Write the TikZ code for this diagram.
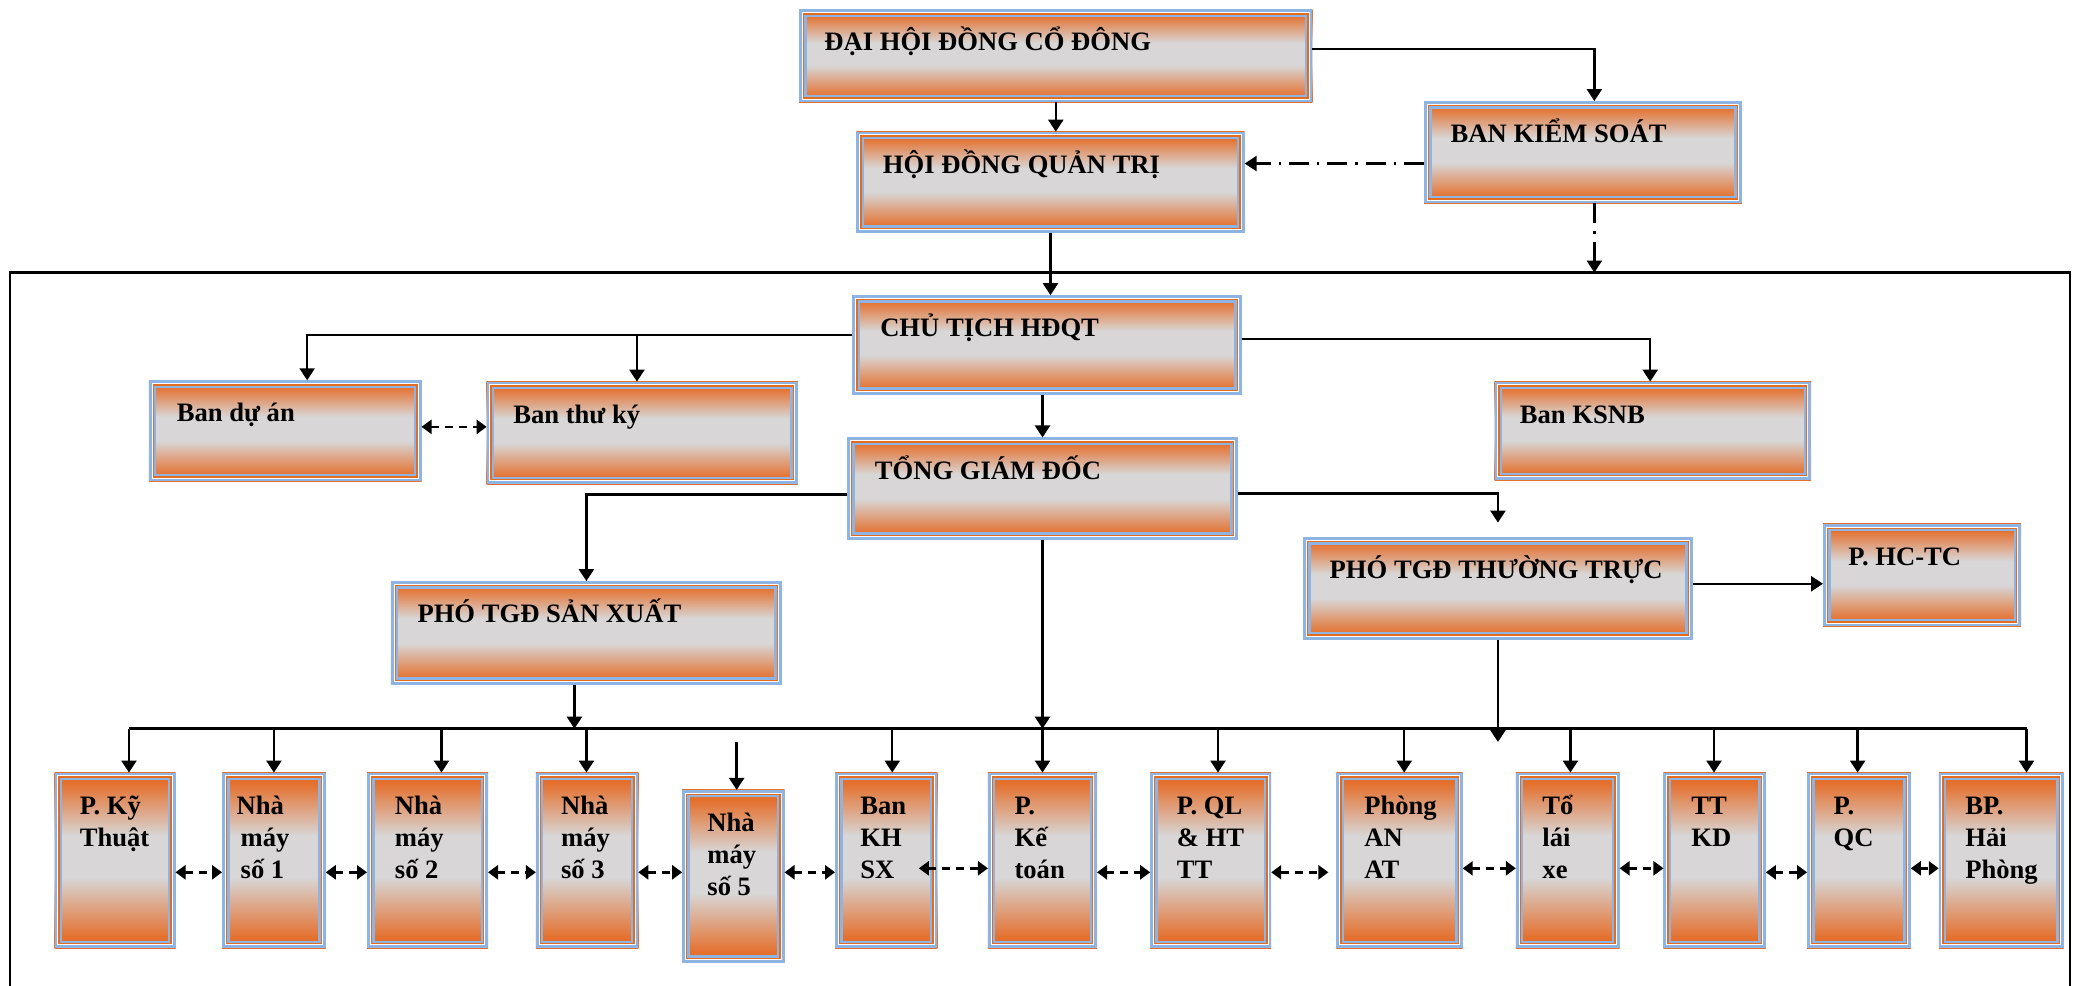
\documentclass[tikz,border=0pt]{standalone}
\usepackage{fontspec}
\setmainfont{Liberation Serif}
\usetikzlibrary{arrows.meta,calc}
\definecolor{bor}{RGB}{228,112,46}
\definecolor{bgr}{RGB}{216,214,214}
\definecolor{bbl}{RGB}{141,180,226}
\definecolor{lor}{RGB}{228,108,30}
\pgfdeclareverticalshading{boxshade}{100bp}{color(0bp)=(bor); color(28bp)=(bor); color(45bp)=(bgr); color(57bp)=(bgr); color(72bp)=(bor); color(100bp)=(bor)}
\newdimen\unitpx \unitpx=0.66485pt
\tikzset{
  boxst/.style={shade, shading=boxshade, inner sep=0pt, outer sep=0pt, text=black,
    font=\fontsize{13.3}{16}\selectfont\bfseries},
  arr/.style={-{Triangle[length=6pt,width=7.5pt]}, line width=1.2pt, black},
  plain/.style={line width=1.2pt, black},
  dbl/.style={{Triangle[length=5pt,width=7pt]}-{Triangle[length=5pt,width=7pt]}, line width=1.2pt, black, dash pattern=on 4pt off 3pt},
  ddot/.style={line width=1.2pt, black, dash pattern=on 10pt off 4pt on 1.2pt off 4pt},
  frame/.style={draw, line width=1.1pt, inner sep=0pt, outer sep=0pt, anchor=north west}
}
\newcommand\mybox[7]{%
  \pgfmathsetlengthmacro\bw{(#4-#2)*0.66485}%
  \pgfmathsetlengthmacro\bh{(#5-#3)*0.66485}%
  \node[boxst, anchor=north west] (#1) at (#2,#3)
    {\parbox[c][\bh][t]{\bw}{\raggedright\leftskip=#6\unitpx\rule{0pt}{20.8pt}#7}};%
}
\newcommand\mydeco[1]{%
  \draw[bbl,line width=1.35pt] ([shift={(0.675pt,-0.675pt)}]#1.north west) rectangle ([shift={(-0.675pt,0.675pt)}]#1.south east);
  \draw[white,line width=0.5pt] ([shift={(1.6pt,-1.6pt)}]#1.north west) rectangle ([shift={(-1.6pt,1.6pt)}]#1.south east);
  \draw[lor,line width=0.75pt] ([shift={(2.225pt,-2.225pt)}]#1.north west) rectangle ([shift={(-2.225pt,2.225pt)}]#1.south east);
  \draw[bbl,line width=1.15pt] ([shift={(3.175pt,-3.175pt)}]#1.north west) rectangle ([shift={(-3.175pt,3.175pt)}]#1.south east);
}
\begin{document}
\begin{tikzpicture}[x=0.66485pt,y=-0.66485pt]
\clip (0,0) rectangle (1568,741);
\fill[white] (0,0) rectangle (1568,741);
\node[frame, minimum width={1549.5*0.66485pt}, minimum height={560*0.66485pt}] (fr) at (7.5,205) {};

\mybox{dh}{601}{7}{987}{77}{19}{ĐẠI HỘI ĐỒNG CỔ ĐÔNG}
\mybox{hq}{644}{99}{936}{175}{20}{HỘI ĐỒNG QUẢN TRỊ}
\mybox{bks}{1071}{76}{1310}{153}{20}{BAN KIỂM SOÁT}
\mybox{ct}{641}{222}{934}{297}{21}{CHỦ TỊCH HĐQT}
\mybox{bda}{112}{286}{317}{362}{21}{Ban dự án}
\mybox{btk}{366}{287}{600}{364}{20}{Ban thư ký}
\mybox{ksnb}{1124}{287}{1362}{361}{19}{Ban KSNB}
\mybox{tgd}{637}{329}{931}{406}{21}{TỔNG GIÁM ĐỐC}
\mybox{psx}{294}{437}{588}{515}{20}{PHÓ TGĐ SẢN XUẤT}
\mybox{ptt}{980}{404}{1273}{481}{20}{PHÓ TGĐ THƯỜNG TRỰC}
\mybox{phc}{1371}{394}{1520}{471}{19}{P. HC-TC}

\mybox{pkt}{41}{581}{132}{713}{19}{P. Kỹ\\Thuật}
\mybox{nm1}{167}{581}{245}{713}{11}{Nhà\\\hspace*{2pt}máy\\\hspace*{2pt}số 1}
\mybox{nm2}{276}{581}{367}{713}{21}{Nhà\\máy\\số 2}
\mybox{nm3}{403}{581}{480}{713}{19}{Nhà\\máy\\số 3}
\mybox{nm5}{513}{594}{590}{724}{19}{Nhà\\máy\\số 5}
\mybox{bkh}{628}{581}{705}{713}{19}{Ban\\KH\\SX}
\mybox{pkto}{743}{581}{825}{713}{20}{P.\\Kế\\toán}
\mybox{pql}{865}{581}{956}{713}{20}{P. QL\\\& HT\\TT}
\mybox{pan}{1005}{581}{1100}{713}{21}{Phòng\\AN\\AT}
\mybox{tlx}{1140}{581}{1218}{713}{20}{Tổ\\lái\\xe}
\mybox{ttkd}{1251}{581}{1328}{713}{21}{TT\\KD}
\mybox{pqc}{1359}{581}{1437}{713}{20}{P.\\QC}
\mybox{bp}{1458}{581}{1552}{713}{20}{BP.\\Hải\\Phòng}

\foreach \n in {dh,hq,bks,ct,bda,btk,ksnb,tgd,psx,ptt,phc,pkt,nm1,nm2,nm3,nm5,bkh,pkto,pql,pan,tlx,ttkd,pqc,bp} {\mydeco{\n}}

% top connectors
\draw[arr] (dh) -- (dh |- hq.north);
\draw[arr] (0,37 -| dh.east) -| (1199,0 |- bks.north);
\draw[ddot,-{Triangle[length=6pt,width=7.5pt]}] (0,123 -| bks.west) -- (0,123 -| hq.east);
\draw[ddot,-{Triangle[length=6pt,width=7.5pt]}] (1199,0 |- bks.south) -- (1199,0 |- fr.north);
\draw[arr] (hq) -- (hq |- ct.north);
\draw[arr] (0,252 -| ct.west) -| (231,0 |- bda.north);
\coordinate (j1) at (479,252);
\draw[arr] (j1) -- (j1 |- btk.north);
\draw[arr] (0,255 -| ct.east) -| (1241,0 |- ksnb.north);
\draw[dbl] (0,321 -| bda.east) -- (0,321 -| btk.west);
\draw[arr] (tgd |- ct.south) -- (tgd);
\draw[arr] (0,372 -| tgd.west) -| (psx);
\draw[arr] (0,371 -| tgd.east) -| ($(ptt.north)+(0,-11)$);
\draw[arr] (0,439 -| ptt.east) -- (0,439 -| phc.west);

% bus
\coordinate (busL) at (97,548);
\coordinate (busR) at (1524,548);
\draw[plain] (busL) -- (busR);
\draw[arr] (432,0 |- psx.south) -- (432,0 |- busL);
\draw[arr] (tgd) -- (tgd |- busL);
\draw[arr] (ptt) -- ($(ptt |- busL)+(0,10)$);
\foreach \n/\x in {pkt/97,nm1/206,nm2/332,nm3/441,bkh/671,pkto/784,pql/916,pan/1056,tlx/1181,ttkd/1289,pqc/1397,bp/1524}
  {\draw[arr] (\x,548) -- (\x,0 |- \n.north);}
\coordinate (n5top) at (554,558);
\draw[arr] (n5top) -- (n5top |- nm5.north);

% dashed double arrows
\foreach \a/\b/\y in {pkt/nm1/656,nm1/nm2/656,nm2/nm3/656,nm3/nm5/656,nm5/bkh/656,pkto/pql/656,pan/tlx/653,tlx/ttkd/653,ttkd/pqc/656,pqc/bp/653}
  {\draw[dbl] (0,\y -| \a.east) -- (0,\y -| \b.west);}
\draw[dbl] ($(0,653 -| bkh.east)+(-14,0)$) -- (0,653 -| pkto.west);
\draw[dbl] (0,656 -| pql.east) -- ($(0,656 -| pan.west)+(-6,0)$);
\end{tikzpicture}
\end{document}
